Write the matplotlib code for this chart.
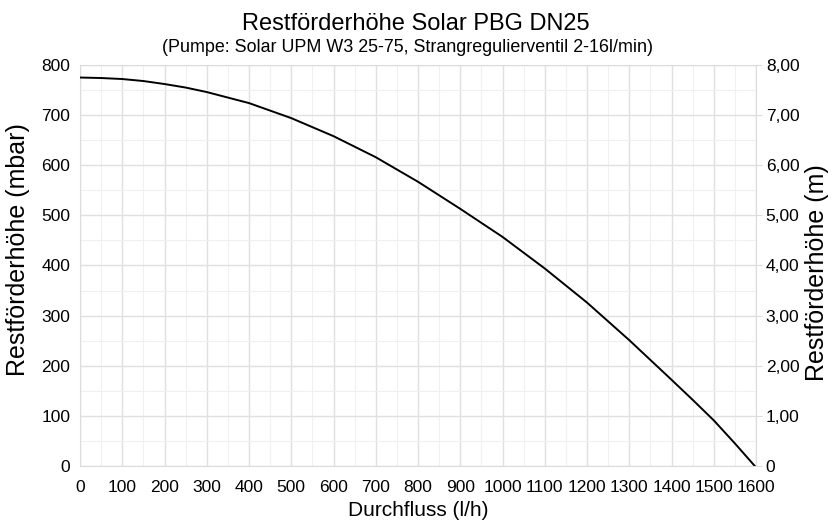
import matplotlib.pyplot as plt
from matplotlib.ticker import MultipleLocator, FuncFormatter

plt.rcParams['font.family'] = ['Liberation Sans', 'DejaVu Sans']

# values
flow = [0, 50, 100, 150, 200, 250, 300, 400, 500, 600, 700, 800, 900,
        1000, 1100, 1200, 1300, 1400, 1450, 1500, 1550, 1597]
head_mbar = [775, 774, 772, 768, 762, 755, 746, 724, 694, 658, 616, 567, 513,
             457, 394, 326, 251, 172, 132, 91, 45, 0]

fig = plt.figure(figsize=(8.32, 5.25), dpi=100)
ax = fig.add_axes([0.0962, 0.1124, 0.8125, 0.7638])

ax.plot(flow, head_mbar, color='black', lw=1.4, zorder=3)

ax.set_xlim(0, 1600)
ax.set_ylim(0, 800)
ax.xaxis.set_major_locator(MultipleLocator(100))
ax.xaxis.set_minor_locator(MultipleLocator(50))
ax.yaxis.set_major_locator(MultipleLocator(100))
ax.yaxis.set_minor_locator(MultipleLocator(50))
ax.grid(which='major', color='#e0e0e0', lw=1.0)
ax.grid(which='minor', color='#f0f0f0', lw=0.8)
ax.set_axisbelow(True)
for s in ax.spines.values():
    s.set_color('#dcdcdc')
ax.tick_params(which='both', length=0, labelsize=12.5)
ax.tick_params(axis='y', pad=7)
ax.tick_params(axis='x', pad=10)

ax2 = ax.twinx()
ax2.set_ylim(0, 8)
ax2.yaxis.set_major_locator(MultipleLocator(1))
ax2.yaxis.set_major_formatter(FuncFormatter(
    lambda v, p: '0' if v == 0 else f'{v:.2f}'.replace('.', ',')))
ax2.tick_params(length=4, color='#dcdcdc', labelsize=12.5, pad=3)
for s in ax2.spines.values():
    s.set_visible(False)

ax.set_xlabel('Durchfluss (l/h)', fontsize=15, va='center')
ax.xaxis.set_label_coords(0.5, -0.112)
ax.set_ylabel('Restförderhöhe (mbar)', fontsize=18, va='center')
ax.yaxis.set_label_coords(-0.092, 0.539)
ax2.set_ylabel('Restförderhöhe (m)', fontsize=18, va='center', rotation=90)
ax2.yaxis.set_label_coords(1.09, 0.481)

fig.text(0.5, 0.943, 'Restförderhöhe Solar PBG DN25', ha='center', va='baseline', fontsize=17)
fig.text(0.49, 0.901, '(Pumpe: Solar UPM W3 25-75, Strangregulierventil 2-16l/min)',
         ha='center', va='baseline', fontsize=12.9)

fig.savefig('out.png', dpi=100)
